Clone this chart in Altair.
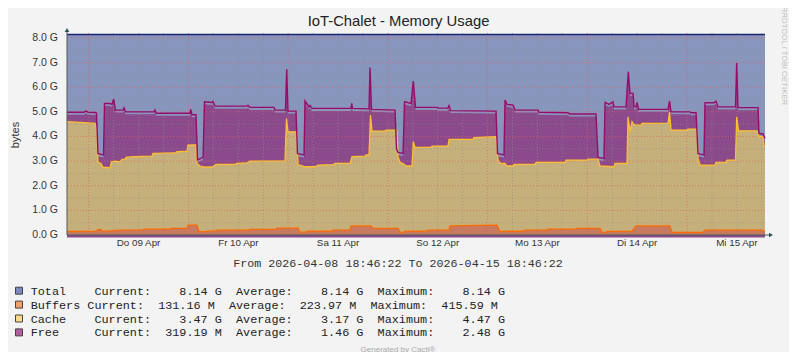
import altair as alt
import pandas as pd

START = pd.Timestamp("2026-04-08 18:46:22")

# ---- data (hours since start, value in GB) ----
total_hours = [0.0, 168.0]
total_values = [8.14, 8.14]

free_hours = [0.0, 4.09, 4.57, 5.05, 6.74, 7.10, 7.46, 8.79, 9.03, 10.35, 10.83, 11.24, 11.67, 13.48, 13.72, 14.08,
              20.94, 21.18, 21.42, 29.61, 29.77, 30.09, 31.05, 31.41, 32.74, 33.10, 34.90, 35.14, 35.62, 43.33,
              43.57, 44.05, 49.82, 50.06, 52.59, 52.88, 53.19, 55.12, 55.48, 57.05, 57.29, 58.25, 58.49, 58.97,
              68.36, 68.53, 68.72, 72.69, 72.93, 73.29, 78.95, 79.31, 79.67, 80.88, 81.24, 82.80, 83.35, 83.88,
              89.06, 89.30, 91.71, 91.95, 92.31, 103.26, 103.62, 105.18, 105.43, 105.91, 107.35, 107.83, 113.37,
              113.61, 120.59, 121.07, 127.33, 127.81, 129.25, 129.50, 130.46, 131.42, 131.66, 134.55, 135.10,
              135.51, 136.24, 136.48, 136.96, 137.20, 137.56, 144.66, 145.02, 145.38, 149.95, 150.19, 151.40,
              151.88, 153.32, 153.56, 155.73, 156.21, 156.69, 160.90, 161.19, 161.50, 166.32, 166.56, 167.52, 168.0]
free_values = [4.98, 4.98, 5.04, 4.98, 4.97, 4.95, 3.30, 3.25, 5.34, 5.34, 5.30, 5.52, 5.07, 5.07, 5.16, 5.00,
               5.00, 5.07, 4.94, 4.94, 5.10, 4.88, 4.88, 3.05, 3.15, 5.41, 5.38, 5.42, 5.23, 5.23,
               5.27, 5.18, 5.18, 5.07, 5.07, 6.73, 5.03, 5.03, 3.30, 3.25, 5.44, 5.20, 5.26, 5.14,
               5.14, 5.34, 5.14, 5.12, 6.80, 5.10, 5.07, 3.50, 3.35, 3.31, 5.41, 5.34, 6.25, 5.18,
               5.18, 5.15, 5.15, 5.25, 5.05, 5.03, 3.30, 3.25, 5.48, 5.30, 5.27, 5.07, 5.07,
               4.98, 4.96, 4.91, 4.91, 3.15, 3.11, 5.38, 5.30, 5.40, 5.20, 5.20, 6.63,
               5.75, 5.75, 5.20, 5.20, 5.38, 5.10, 5.10, 5.44, 5.00, 5.00, 4.96, 4.96,
               3.30, 3.25, 5.37, 5.37, 5.43, 5.20, 5.20, 6.98, 5.17, 5.17, 4.12, 4.10, 3.92]

cache_hours = [0.0, 3.13, 6.74, 7.22, 7.46, 8.18, 8.67, 10.35, 10.71, 11.55, 12.76, 13.24, 13.96, 14.20, 15.89,
               20.46, 20.70, 26.00, 26.48, 28.88, 29.12, 31.05, 31.29, 32.01, 33.22, 35.14, 35.86, 40.44, 40.92,
               43.33, 44.05, 52.47, 52.83, 53.19, 55.36, 55.60, 56.08, 57.29, 59.69, 60.42, 64.03, 64.51, 68.12,
               68.60, 71.73, 71.97, 72.69, 73.05, 73.41, 76.54, 76.78, 79.43, 79.67, 80.15, 80.88, 81.60, 83.04,
               83.35, 83.76, 87.61, 87.85, 91.71, 91.95, 97.72, 97.96, 103.26, 103.74, 104.22, 105.43, 105.91,
               107.35, 107.59, 112.65, 112.89, 119.87, 120.11, 125.16, 125.40, 127.81, 128.29, 131.66, 131.90,
               134.79, 135.03, 135.51, 136.00, 136.36, 136.72, 138.16, 138.40, 144.66, 145.02, 145.38, 149.23,
               149.47, 151.64, 151.88, 152.36, 155.97, 156.21, 158.62, 158.86, 160.90, 161.19, 161.62, 166.08,
               166.56, 167.52, 167.76, 168.0]
cache_values = [4.60, 4.57, 4.53, 4.30, 2.95, 2.90, 2.75, 2.73, 2.97, 3.00, 2.97, 3.07, 3.07, 3.15, 3.18,
                3.20, 3.31, 3.33, 3.38, 3.40, 3.65, 3.66, 2.90, 2.80, 2.75, 2.77, 2.87, 2.87, 2.91,
                2.93, 3.00, 3.01, 4.73, 4.19, 4.19, 2.85, 2.84, 2.77, 2.77, 2.84, 2.86, 2.91, 2.91,
                3.18, 3.20, 3.25, 3.25, 4.87, 4.22, 4.22, 4.26, 4.26, 3.18, 2.95, 2.90, 2.80, 2.80,
                3.79, 3.56, 3.56, 3.61, 3.61, 3.88, 3.88, 3.95, 3.99, 3.04, 2.91, 2.91, 2.80,
                2.80, 2.87, 2.87, 2.95, 2.95, 3.04, 3.04, 3.08, 3.08, 2.80, 2.77, 2.91,
                2.91, 4.80, 4.20, 4.60, 4.50, 4.46, 4.46, 4.53, 4.53, 5.00, 4.26, 4.26,
                4.30, 4.30, 3.10, 2.84, 2.84, 2.95, 2.95, 3.04, 3.04, 4.80, 4.23, 4.23,
                3.99, 3.99, 3.61, 3.60]

buffers_hours = [0.0, 6.98, 7.46, 8.18, 8.42, 10.35, 12.76, 18.29, 18.53, 24.79, 25.03, 28.88, 29.12, 31.29,
                 31.77, 33.46, 33.70, 35.86, 36.10, 43.81, 44.05, 50.31, 50.55, 55.60, 56.08, 57.53, 57.77,
                 63.79, 64.03, 68.12, 68.36, 73.17, 73.65, 79.67, 80.15, 81.11, 81.36, 86.65, 86.89, 91.95,
                 92.19, 103.50, 104.22, 104.94, 109.76, 110.24, 115.54, 115.78, 122.52, 122.76, 128.29,
                 128.77, 129.73, 129.97, 136.00, 136.96, 145.14, 145.62, 153.08, 153.56, 167.28, 168.0]
buffers_values = [0.15, 0.16, 0.22, 0.22, 0.16, 0.17, 0.20, 0.21, 0.24, 0.24, 0.27, 0.27, 0.40, 0.40,
                  0.14, 0.14, 0.16, 0.17, 0.20, 0.20, 0.23, 0.23, 0.28, 0.28, 0.12, 0.12, 0.16,
                  0.16, 0.20, 0.20, 0.37, 0.37, 0.27, 0.27, 0.12, 0.11, 0.16, 0.16, 0.20, 0.20,
                  0.37, 0.40, 0.14, 0.15, 0.16, 0.20, 0.20, 0.24, 0.24, 0.27, 0.27,
                  0.11, 0.11, 0.15, 0.16, 0.37, 0.37, 0.11, 0.11, 0.20, 0.20, 0.14]

y_ticks = [0, 1, 2, 3, 4, 5, 6, 7, 8]
y_minor = [0.5, 1.5, 2.5, 3.5, 4.5, 5.5, 6.5, 7.5]
x_labels = ["Do 09 Apr", "Fr 10 Apr", "Sa 11 Apr", "So 12 Apr", "Mo 13 Apr", "Di 14 Apr", "Mi 15 Apr"]
x_label_times = ["2026-04-09 12:00", "2026-04-10 12:00", "2026-04-11 12:00", "2026-04-12 12:00",
                 "2026-04-13 12:00", "2026-04-14 12:00", "2026-04-15 12:00"]

legend_names = ["Total    ", "Buffers ", "Cache    ", "Free     "]
legend_current = ["8.14 G", "131.16 M", "3.47 G", "319.19 M"]
legend_average = ["8.14 G", "223.97 M", "3.17 G", "1.46 G"]
legend_maximum = ["8.14 G", "415.59 M", "4.47 G", "2.48 G"]
legend_colors = ["#7C89BD", "#F4A06C", "#FBDA8C", "#B25FA0"]

title_text = "IoT-Chalet - Memory Usage"
period_text = "From 2026-04-08 18:46:22 To 2026-04-15 18:46:22"

# ---- helpers ----
def frame(hours, values):
    return pd.DataFrame({"t": [START + pd.Timedelta(hours=h) for h in hours], "v": values})

W, H = 698, 202
x_scale = alt.Scale(domain=[alt.DateTime(year=2026, month=4, date=8, hours=18, minutes=46, seconds=22),
                            alt.DateTime(year=2026, month=4, date=15, hours=18, minutes=46, seconds=22)])
y_scale = alt.Scale(domain=[0, 8.2], nice=False, zero=False)
X = alt.X("t:T", scale=x_scale, axis=None)
Y = alt.Y("v:Q", scale=y_scale, axis=None)

one = pd.DataFrame({"a": [0]})

def area(df, color, offset=0):
    return alt.Chart(df).mark_area(color=color, interpolate="linear", yOffset=offset).encode(x=X, y=Y)

def line(df, color, w=1.2):
    return alt.Chart(df).mark_line(color=color, strokeWidth=w, interpolate="linear").encode(x=X, y=Y)

total_df = frame(total_hours, total_values)
free_df = frame(free_hours, free_values)
cache_df = frame(cache_hours, cache_values)
buf_df = frame(buffers_hours, buffers_values)

layers = [
    area(total_df, "#8896BE"),
    area(free_df, "#8B4A8B", 2.5),
    area(cache_df, "#C5B07C"),
    area(buf_df, "#C87A60"),
]

# grid
midnights = pd.date_range("2026-04-09", "2026-04-15", freq="D")
six_hours = [t for t in pd.date_range("2026-04-09 06:00", "2026-04-15 18:00", freq="6h") if t.hour != 0]
dash = [1, 2]
layers += [
    alt.Chart(pd.DataFrame({"t": six_hours})).mark_rule(color="#909090", strokeDash=dash, opacity=0.6, strokeWidth=1).encode(x=X),
    alt.Chart(pd.DataFrame({"t": list(midnights)})).mark_rule(color="#E06060", strokeDash=dash, opacity=0.7, strokeWidth=1).encode(x=X),
    alt.Chart(pd.DataFrame({"v": y_minor})).mark_rule(color="#909090", strokeDash=dash, opacity=0.6, strokeWidth=1).encode(y=Y),
    alt.Chart(pd.DataFrame({"v": y_ticks[1:]})).mark_rule(color="#E06060", strokeDash=dash, opacity=0.7, strokeWidth=1).encode(y=Y),
]

layers += [
    line(buf_df, "#FF6A00", 1.3),
    line(cache_df, "#FFBE2E", 1.3),
    line(free_df, "#9A0A68", 1.4),
    line(total_df, "#1C2474", 1.6),
]

axis_color = "#4A5A5A"
layers += [
    alt.Chart(one).mark_rule(color=axis_color, strokeWidth=1).encode(x=alt.value(0), y=alt.value(-2), y2=alt.value(H)),
    alt.Chart(one).mark_rule(color=axis_color, strokeWidth=1).encode(x=alt.value(0), x2=alt.value(W + 4), y=alt.value(H)),
    alt.Chart(one).mark_point(shape="triangle-up", filled=True, color="#2F5050", size=22, opacity=1).encode(x=alt.value(0), y=alt.value(-3)),
    alt.Chart(one).mark_point(shape="triangle-right", filled=True, color="#2F5050", size=22, opacity=1).encode(x=alt.value(W + 6), y=alt.value(H)),
]

# axis labels
ylab_df = pd.DataFrame({"v": y_ticks})
layers.append(
    alt.Chart(ylab_df).transform_calculate(label="format(datum.v, '.1f') + ' G'")
    .mark_text(align="right", baseline="middle", font="Liberation Sans", fontSize=10.5, color="#333333")
    .encode(y=Y, x=alt.value(-9), text="label:N")
)
xlab_df = pd.DataFrame({"t": pd.to_datetime(x_label_times), "label": x_labels})
layers.append(
    alt.Chart(xlab_df).mark_text(align="center", baseline="middle", font="Liberation Sans", fontSize=9.8, color="#333333")
    .encode(x=X, y=alt.value(H + 8), text="label:N")
)

def text_layer(txt, x, y, **kw):
    return alt.Chart(pd.DataFrame({"s": [txt]})).mark_text(**kw).encode(x=alt.value(x), y=alt.value(y), text="s:N")

layers += [
    text_layer(title_text, 331.5, -11, font="Liberation Sans", fontSize=14.8, color="#222222", align="center", baseline="middle"),
    text_layer("bytes", -51, 102, font="Liberation Sans", fontSize=11, color="#333333", align="center", baseline="middle", angle=270),
    text_layer(period_text.replace(" ", "\u00a0"), 331, 230, font="Liberation Mono", fontSize=11.7, color="#333333", align="center", baseline="middle"),
    text_layer("Generated by Cacti®", 331, 316.5, font="Liberation Sans", fontSize=8, color="#AAAAAA", align="center", baseline="middle"),
    text_layer("RRDTOOL / TOBI OETIKER", 716.5, 23, font="Liberation Sans", fontSize=7.8, color="#BBBBBB", align="center", baseline="middle", angle=90),
]

for i, name in enumerate(legend_names):
    row = f"{name}Current:{legend_current[i]:>10}  Average:{legend_average[i]:>10}  Maximum:{legend_maximum[i]:>10}"
    yc = 257.7 + 13.9 * i
    layers.append(text_layer(row.replace(" ", "\u00a0"), -36.3, yc, font="Liberation Mono", fontSize=11.8,
                             color="#222222", align="left", baseline="middle"))
    layers.append(alt.Chart(one).mark_rect(color=legend_colors[i], stroke="#444444", strokeWidth=1)
                  .encode(x=alt.value(-51.5), x2=alt.value(-44.5), y=alt.value(yc - 3.5), y2=alt.value(yc + 3.5)))

chart = alt.layer(*layers).properties(
    width=W, height=H,
    autosize=alt.AutoSizeParams(type="none"),
    padding={"left": 59, "top": 25, "right": 24, "bottom": 117},
    background="#F3F3F3",
).configure_view(stroke=None)

chart.save("out.html", embed_options={"renderer": "svg", "actions": False})
